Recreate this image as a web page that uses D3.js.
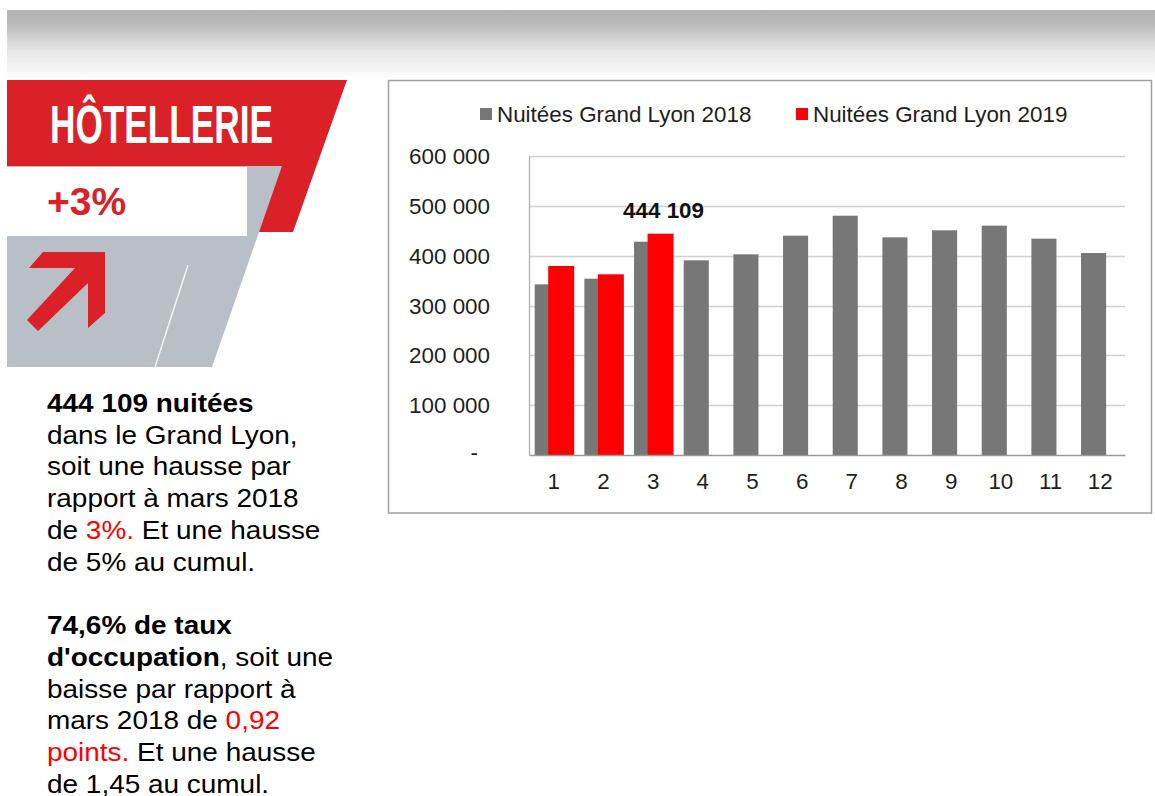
<!DOCTYPE html>
<html>
<head>
<meta charset="utf-8">
<script src="https://cdn.jsdelivr.net/npm/d3@7"></script>
<style>
  html, body { margin: 0; padding: 0; background: #fff; }
  svg { display: block; font-family: "Liberation Sans", Arial, sans-serif; }
</style>
</head>
<body>
<svg id="chart" width="1155" height="796"></svg>
<script>
// ---- data ----
const months = ["1","2","3","4","5","6","7","8","9","10","11","12"];
const series2018 = [342500, 353800, 428000, 390700, 402700, 440100, 480200, 436800, 450900, 460200, 434100, 405400];
const series2019 = [379300, 362600, 444109];
const seriesNames = ["Nuitées Grand Lyon 2018", "Nuitées Grand Lyon 2019"];
const yTicks = [0, 100000, 200000, 300000, 400000, 500000, 600000];
const highlightLabel = "444 109";

const svg = d3.select("#chart");

// ---- header gradient band ----
const defs = svg.append("defs");
const grad = defs.append("linearGradient").attr("id", "hdr").attr("x1", 0).attr("y1", 0).attr("x2", 0).attr("y2", 1);
grad.append("stop").attr("offset", "0").attr("stop-color", "#b3b3b3");
grad.append("stop").attr("offset", "0.2").attr("stop-color", "#b9b9b9");
grad.append("stop").attr("offset", "0.6").attr("stop-color", "#e6e6e6");
grad.append("stop").attr("offset", "1").attr("stop-color", "#fdfdfd");
svg.append("rect").attr("x", 7).attr("y", 10).attr("width", 1148).attr("height", 68).attr("fill", "url(#hdr)");

// ---- left banner graphic ----
const bannerRed = "#da2128";
svg.append("polygon").attr("points", "7,80 347,80 293,232 7,232").attr("fill", bannerRed);
svg.append("polygon").attr("points", "7,166 282,166 212,367 7,367").attr("fill", "#b8bfc6");
svg.append("rect").attr("x", 7).attr("y", 167).attr("width", 240).attr("height", 69).attr("fill", "#fff");
svg.append("line").attr("x1", 188).attr("y1", 265).attr("x2", 155).attr("y2", 367)
  .attr("stroke", "#f2f4f6").attr("stroke-width", 1.5);
svg.append("polygon")
  .attr("points", "43,252 105,252 105,313 88,328 88,283 38,331 27,320 75,268 29,268")
  .attr("fill", bannerRed);
svg.append("text").attr("x", 50).attr("y", 143)
  .attr("textLength", 223).attr("lengthAdjust", "spacingAndGlyphs")
  .style("font-family", "'Liberation Sans Narrow', 'Arial Narrow', 'Liberation Sans', sans-serif")
  .style("font-stretch", "condensed")
  .style("font-weight", "bold").style("font-size", "54px").attr("fill", "#fff")
  .text("HÔTELLERIE");
svg.append("text").attr("x", 47).attr("y", 215)
  .style("font-weight", "bold").style("font-size", "39px").attr("fill", bannerRed)
  .text("+3%");

// ---- left text block ----
const lines = [
  [["444 109 nuitées", "b"]],
  [["dans le Grand Lyon,", "n"]],
  [["soit une hausse par", "n"]],
  [["rapport à mars 2018", "n"]],
  [["de ", "n"], ["3%.", "r"], [" Et une hausse", "n"]],
  [["de 5% au cumul.", "n"]],
  [],
  [["74,6% de taux", "b"]],
  [["d'occupation", "b"], [", soit une", "n"]],
  [["baisse par rapport à", "n"]],
  [["mars 2018 de ", "n"], ["0,92", "r"]],
  [["points.", "r"], [" Et une hausse", "n"]],
  [["de 1,45 au cumul.", "n"]]
];
const tb = svg.append("g").attr("transform", "translate(47,0) scale(1.075,1)").style("font-size", "26px");
lines.forEach((segs, i) => {
  if (!segs.length) return;
  const t = tb.append("text").attr("x", 0).attr("y", 412 + i * 31.75).attr("xml:space", "preserve");
  segs.forEach(([s, k]) => {
    t.append("tspan").text(s)
      .attr("fill", k === "r" ? "#ff0000" : "#000")
      .style("font-weight", k === "b" ? "bold" : "normal");
  });
});

// ---- chart frame ----
svg.append("rect").attr("x", 388.5).attr("y", 80.5).attr("width", 763).attr("height", 432.5)
  .attr("fill", "#fff").attr("stroke", "#a0a0a0").attr("stroke-width", 1.5);

const plotL = 529, plotR = 1125, plotT = 156, plotB = 455;
const x = d3.scaleBand().domain(months).range([plotL, plotR]).padding(0);
const y = d3.scaleLinear().domain([0, 600000]).range([plotB, plotT]);
const bw = x.bandwidth();
const textColor = "#1e1e1e";
const chartFont = "22.4px";

// gridlines
svg.append("g").selectAll("line").data(yTicks.filter(d => d > 0)).join("line")
  .attr("x1", plotL).attr("x2", plotR)
  .attr("y1", d => Math.round(y(d)) + 0.5).attr("y2", d => Math.round(y(d)) + 0.5)
  .attr("stroke", "#d0d0d0").attr("stroke-width", 1.3);

// y axis
const fmt = d => d === 0 ? "-" : d3.format(",")(d).replace(/,/g, " ");
const yAxis = svg.append("g").attr("transform", `translate(${plotL},0)`)
  .call(d3.axisLeft(y).tickValues(yTicks).tickSize(0).tickPadding(39).tickFormat(fmt));
yAxis.select(".domain").attr("stroke", "#b0b0b0").attr("stroke-width", 1.3);
yAxis.selectAll("text").style("font-size", chartFont).style("font-family", "'Liberation Sans', Arial, sans-serif")
  .attr("fill", textColor).attr("dy", "0.34em");
yAxis.selectAll(".tick").filter(d => d === 0).select("text").attr("x", -51).attr("dy", "0.22em");

// bars 2018
svg.append("g").selectAll("rect").data(series2018).join("rect")
  .attr("x", (d, i) => x(months[i]) + bw * 0.115)
  .attr("width", bw * 0.505)
  .attr("y", d => y(d)).attr("height", d => y(0) - y(d))
  .attr("fill", "#777777");

// bars 2019
svg.append("g").selectAll("rect").data(series2019).join("rect")
  .attr("x", (d, i) => x(months[i]) + bw * 0.387)
  .attr("width", bw * 0.523)
  .attr("y", d => y(d)).attr("height", d => y(0) - y(d))
  .attr("fill", "#ff0000");

// x axis
const xAxis = svg.append("g").attr("transform", `translate(0,${plotB})`)
  .call(d3.axisBottom(x).tickSize(0).tickPadding(18.3));
xAxis.select(".domain").attr("stroke", "#999").attr("stroke-width", 1.5);
xAxis.selectAll("text").style("font-size", chartFont).style("font-family", "'Liberation Sans', Arial, sans-serif")
  .attr("fill", textColor);

// data label on last 2019 bar
const li = series2019.length - 1;
svg.append("text")
  .attr("x", x(months[li]) + bw * 0.387 + bw * 0.523 / 2 + 3)
  .attr("y", y(series2019[li]) - 15.5)
  .attr("text-anchor", "middle")
  .style("font-weight", "bold").style("font-size", chartFont).attr("fill", "#111")
  .text(highlightLabel);

// legend
const legX = [480, 796];
const legColors = ["#777777", "#ff0000"];
seriesNames.forEach((n, i) => {
  svg.append("rect").attr("x", legX[i]).attr("y", 108).attr("width", 12).attr("height", 12).attr("fill", legColors[i]);
  svg.append("text").attr("x", legX[i] + 17).attr("y", 122)
    .style("font-size", chartFont).attr("fill", textColor).text(n);
});
</script>
</body>
</html>
